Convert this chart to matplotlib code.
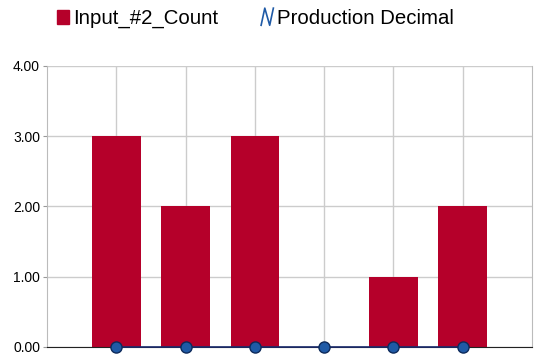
import numpy as np
import matplotlib.pyplot as plt
from matplotlib.lines import Line2D
from matplotlib.patches import Patch
from matplotlib.legend_handler import HandlerBase

plt.rcParams['font.family'] = ['Liberation Sans', 'DejaVu Sans']

# --- datos ---
categorias = ['A', 'B', 'C', 'D', 'E', 'F']
input2_count = [3, 2, 3, 0, 1, 2]
production_decimal = [0, 0, 0, 0, 0, 0]
y_ticks = [0, 1, 2, 3, 4]

rojo = '#b5002a'
azul = '#1f5aa6'


class HandlerZigzag(HandlerBase):
    # dibuja el simbolo en zigzag de la leyenda
    def create_artists(self, legend, orig_handle, xdescent, ydescent,
                       width, height, fontsize, trans):
        x0 = -xdescent
        w = width
        h = height * 1.2
        y0 = -ydescent - height * 0.1
        xs = [x0, x0 + w * 0.3, x0 + w * 0.7, x0 + w]
        ys = [y0, y0 + h, y0, y0 + h]
        ln = Line2D(xs, ys, color=azul, lw=1.2, transform=trans)
        return [ln]


fig = plt.figure(figsize=(5.46, 3.54), dpi=100)
ax = fig.add_axes([0.0861, 0.0198, 0.8883, 0.7938])

x = np.arange(len(categorias))
ax.bar(x, input2_count, width=0.7, color=rojo, zorder=2)
ax.plot(x, production_decimal, color='#1a2a6c', lw=1.2, marker='o',
        markersize=8, markerfacecolor=azul, markeredgecolor='#0d2a5a',
        zorder=3, clip_on=False)

ax.set_xlim(-1, len(categorias))
ax.set_ylim(0, 4)
ax.set_yticks(y_ticks)
ax.set_yticklabels(['%.2f' % v for v in y_ticks], fontsize=10)
ax.set_xticks(x)
ax.set_xticklabels([])
ax.grid(True, which='major', color='#cccccc', lw=1, zorder=0)
ax.tick_params(axis='y', length=3, color='#999999', pad=2)
ax.tick_params(axis='x', length=3, color='#333333')

for s in ['top', 'right', 'left']:
    ax.spines[s].set_color('#bbbbbb')
ax.spines['top'].set_visible(False)
ax.spines['bottom'].set_color('#222222')

handles = [Patch(color=rojo), Line2D([], [])]
labels = ['Input_#2_Count', 'Production Decimal']
fig.legend(handles, labels, loc='upper left', bbox_to_anchor=(0.104, 0.975),
           ncol=2, frameon=False, fontsize=14.7, handlelength=0.6,
           handleheight=0.7, handletextpad=0.2, columnspacing=2.1,
           borderpad=0, borderaxespad=0,
           handler_map={Line2D: HandlerZigzag()})

fig.savefig('out.png', dpi=100)
